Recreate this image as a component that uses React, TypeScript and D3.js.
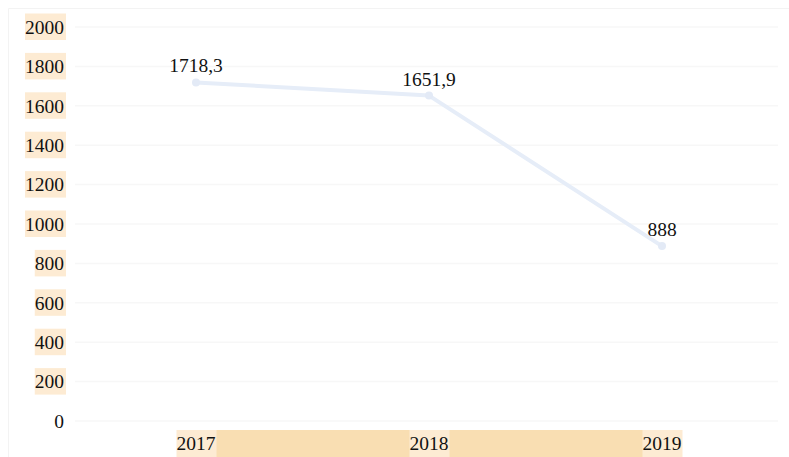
import React from "react";
import * as d3 from "d3";

const years = ["2017", "2018", "2019"];
const values = [1718.3, 1651.9, 888];
const valueLabels = ["1718,3", "1651,9", "888"];
const yTicks = [0, 200, 400, 600, 800, 1000, 1200, 1400, 1600, 1800, 2000];

const W = 789;
const H = 457;
const FONT = "'Liberation Serif', 'Times New Roman', serif";
const FS = 19.5;

export default function App() {
  const x = d3.scalePoint<string>().domain(years).range([196, 662]);
  const y = d3.scaleLinear().domain([0, 2000]).range([421, 27]);
  const line = d3
    .line<number>()
    .x((_, i) => x(years[i]) as number)
    .y((d) => y(d));
  const charW = FS * 0.5;

  return (
    <svg
      width={W}
      height={H}
      style={{ position: "absolute", left: 0, top: 0, display: "block" }}
    >
      <rect x={0} y={0} width={W} height={H} fill="#fff" />
      <path d={`M8.5,${H} V8.5 H${W}`} fill="none" stroke="#f3f3f3" />
      {yTicks.map((t) => (
        <line
          key={"g" + t}
          x1={75}
          x2={778}
          y1={y(t)}
          y2={y(t)}
          stroke="#f7f7f7"
          strokeWidth={1.5}
        />
      ))}
      {yTicks.map((t) => {
        const label = String(t);
        const tw = label.length * charW;
        return (
          <g key={"y" + t}>
            {t !== 0 && (
              <rect
                x={64 - tw}
                y={y(t) - 13.5}
                width={tw + 2}
                height={26.5}
                fill="#fdebd3"
              />
            )}
            <text
              x={64}
              y={y(t)}
              dy="0.35em"
              textAnchor="end"
              fontFamily={FONT}
              fontSize={FS}
              fill="#111"
            >
              {label}
            </text>
          </g>
        );
      })}
      <rect
        x={x(years[0]) as number}
        y={430}
        width={(x(years[2]) as number) - (x(years[0]) as number)}
        height={H - 430}
        fill="#f9deb2"
      />
      {years.map((yr) => {
        const cx = x(yr) as number;
        const tw = yr.length * charW;
        return (
          <g key={"x" + yr}>
            <rect x={cx - tw / 2} y={430} width={tw + 1} height={H - 430} fill="#fdebd3" />
            <text
              x={cx}
              y={443}
              dy="0.35em"
              textAnchor="middle"
              fontFamily={FONT}
              fontSize={FS}
              fill="#111"
            >
              {yr}
            </text>
          </g>
        );
      })}
      <path
        d={line(values) || ""}
        fill="none"
        stroke="#e6edf8"
        strokeWidth={4}
        strokeLinejoin="round"
      />
      {values.map((v, i) => (
        <circle key={"c" + i} cx={x(years[i]) as number} cy={y(v)} r={4} fill="#e3eaf6" />
      ))}
      {values.map((v, i) => (
        <text
          key={"l" + i}
          x={x(years[i]) as number}
          y={y(v) - 10}
          textAnchor="middle"
          fontFamily={FONT}
          fontSize={FS}
          fill="#111"
        >
          {valueLabels[i]}
        </text>
      ))}
    </svg>
  );
}
